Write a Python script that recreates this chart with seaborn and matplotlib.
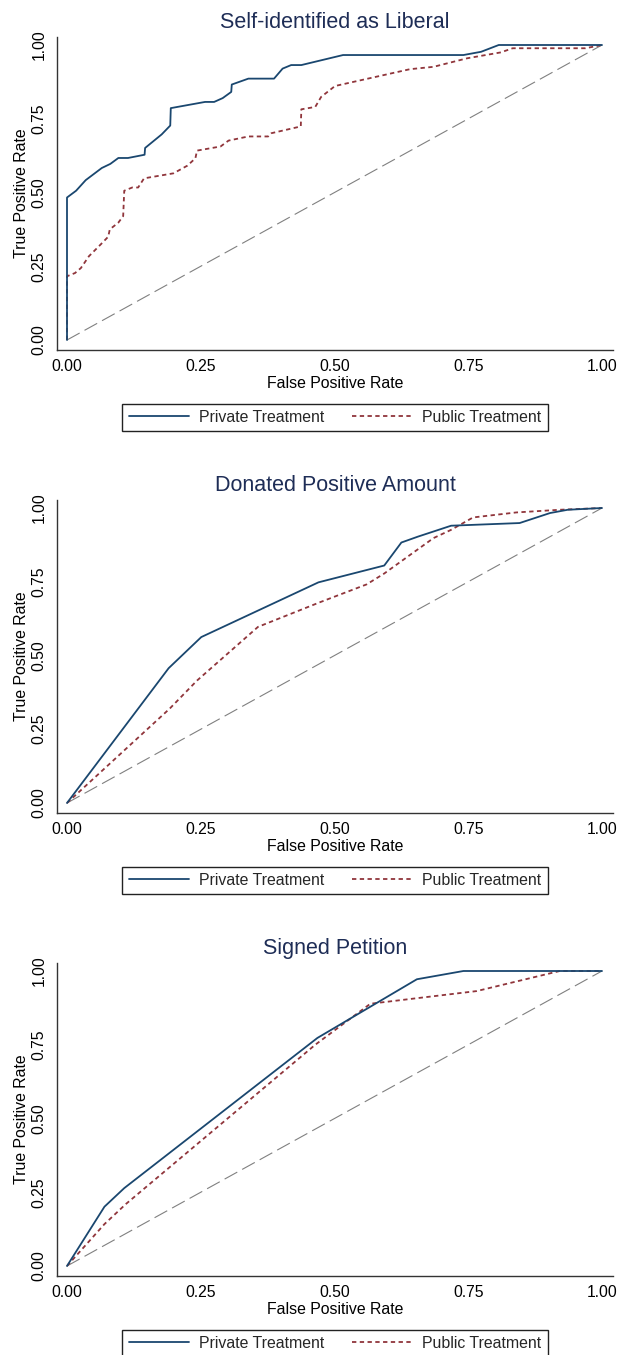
import matplotlib
matplotlib.use("Agg")
import matplotlib.pyplot as plt
import seaborn as sns
from matplotlib.lines import Line2D

# ROC curves (false positive rate, true positive rate) by treatment
liberal_private_fpr = [0.0, 0.0, 0.017, 0.035, 0.065, 0.081, 0.096, 0.114, 0.145, 0.146,
                       0.177, 0.193, 0.194, 0.258, 0.275, 0.291, 0.307, 0.308, 0.339, 0.387,
                       0.403, 0.419, 0.438, 0.516, 0.741, 0.774, 0.807, 1.0]
liberal_private_tpr = [0.0, 0.483, 0.506, 0.542, 0.583, 0.597, 0.617, 0.617, 0.628, 0.651,
                       0.697, 0.727, 0.786, 0.807, 0.807, 0.820, 0.841, 0.866, 0.886, 0.886,
                       0.920, 0.932, 0.932, 0.966, 0.966, 0.977, 1.0, 1.0]
liberal_public_fpr = [0.0, 0.0, 0.015, 0.026, 0.041, 0.063, 0.077, 0.080, 0.096, 0.105,
                      0.107, 0.122, 0.133, 0.144, 0.199, 0.225, 0.240, 0.243, 0.287, 0.302,
                      0.339, 0.376, 0.382, 0.437, 0.438, 0.464, 0.475, 0.501, 0.641, 0.685,
                      0.748, 0.811, 0.833, 0.969, 1.0]
liberal_public_tpr = [0.0, 0.216, 0.227, 0.244, 0.284, 0.324, 0.350, 0.375, 0.398, 0.420,
                      0.506, 0.517, 0.517, 0.548, 0.565, 0.591, 0.616, 0.642, 0.656, 0.676,
                      0.690, 0.690, 0.701, 0.724, 0.782, 0.790, 0.824, 0.861, 0.918, 0.926,
                      0.955, 0.975, 0.989, 0.989, 1.0]

donated_private_fpr = [0.0, 0.19, 0.251, 0.47, 0.593, 0.625, 0.656, 0.718, 0.846, 0.903, 0.936, 1.0]
donated_private_tpr = [0.0, 0.457, 0.5625, 0.748, 0.805, 0.883, 0.903, 0.940, 0.949, 0.983, 0.994, 1.0]
donated_public_fpr = [0.0, 0.192, 0.243, 0.357, 0.472, 0.56, 0.593, 0.685, 0.718, 0.759, 0.84, 0.921, 1.0]
donated_public_tpr = [0.0, 0.32, 0.415, 0.597, 0.68, 0.741, 0.778, 0.898, 0.926, 0.968, 0.985, 0.994, 1.0]

petition_private_fpr = [0.0, 0.07, 0.107, 0.468, 0.654, 0.741, 1.0]
petition_private_tpr = [0.0, 0.201, 0.264, 0.773, 0.972, 1.0, 1.0]
petition_public_fpr = [0.0, 0.07, 0.11, 0.464, 0.567, 0.766, 0.921, 1.0]
petition_public_tpr = [0.0, 0.142, 0.21, 0.75, 0.889, 0.932, 1.0, 1.0]

chance_line = [0.0, 1.0]

titles = ["Self-identified as Liberal", "Donated Positive Amount", "Signed Petition"]
series_labels = ["Private Treatment", "Public Treatment"]
tick_values = [0.0, 0.25, 0.5, 0.75, 1.0]
tick_labels = ["0.00", "0.25", "0.50", "0.75", "1.00"]

panels = [
    (liberal_private_fpr, liberal_private_tpr, liberal_public_fpr, liberal_public_tpr),
    (donated_private_fpr, donated_private_tpr, donated_public_fpr, donated_public_tpr),
    (petition_private_fpr, petition_private_tpr, petition_public_fpr, petition_public_tpr),
]

sns.set_theme(style="white")
plt.rcParams["font.family"] = ["Liberation Sans", "DejaVu Sans"]

NAVY = "#1A476F"
MAROON = "#90353B"
TITLE_COLOR = "#1E2D56"
AXIS_COLOR = "#333333"

W, H = 618, 1355
fig = plt.figure(figsize=(W / 100, H / 100), dpi=100)

ax_left, ax_right = 57, 613
panel_tops = [37, 500, 963]
panel_h = 313

for i, (pfx, pfy, ubx, uby) in enumerate(panels):
    top = panel_tops[i]
    ax = fig.add_axes([ax_left / W, 1 - (top + panel_h) / H,
                       (ax_right - ax_left) / W, panel_h / H])

    sns.lineplot(x=chance_line, y=chance_line, ax=ax, color="#808080", lw=0.8,
                 linestyle=(0, (13, 5)), sort=False, estimator=None)
    sns.lineplot(x=ubx, y=uby, ax=ax, color=MAROON, lw=1.3,
                 linestyle=(0, (2.4, 1.9)), sort=False, estimator=None)
    sns.lineplot(x=pfx, y=pfy, ax=ax, color=NAVY, lw=1.3,
                 sort=False, estimator=None)

    ax.set_xlim(-10 / 535, 1 + 11 / 535)
    ax.set_ylim(-10 / 295, 1 + 8 / 295)
    ax.set_xticks(tick_values)
    ax.set_xticklabels(tick_labels)
    ax.set_yticks(tick_values)
    ax.set_yticklabels(tick_labels, rotation=90, va="center")

    for side in ("top", "right"):
        ax.spines[side].set_visible(False)
    for side in ("left", "bottom"):
        ax.spines[side].set_color(AXIS_COLOR)
        ax.spines[side].set_linewidth(1.0)

    ax.tick_params(axis="both", direction="out", length=4.5, width=0.8,
                   color=AXIS_COLOR, labelsize=11.3, labelcolor="black")
    ax.tick_params(axis="x", pad=2.0)
    ax.tick_params(axis="y", pad=3.0)

    ax.set_xlabel("False Positive Rate", fontsize=11.4, color="black", labelpad=1.5)
    ax.set_ylabel("True Positive Rate", fontsize=11.4, color="black", labelpad=2)
    ax.set_title(titles[i], fontsize=15.5, color=TITLE_COLOR, pad=6.5)

    handles = [
        Line2D([], [], color=NAVY, lw=1.3),
        Line2D([], [], color=MAROON, lw=1.3, linestyle=(0, (2.4, 1.9))),
    ]
    leg_cy = top + 380.5
    leg = ax.legend(handles, series_labels, loc="center", ncol=2,
                    bbox_to_anchor=(335 / W, 1 - leg_cy / H),
                    bbox_transform=fig.transFigure,
                    fontsize=11.4, frameon=True, fancybox=False, shadow=False,
                    handlelength=3.8, handletextpad=0.65, columnspacing=1.75,
                    borderpad=0.38, borderaxespad=0)
    frame = leg.get_frame()
    frame.set_edgecolor("#222222")
    frame.set_linewidth(1.0)
    frame.set_facecolor("white")
    frame.set_alpha(1)

fig.savefig("out.png", dpi=100, facecolor="white")
